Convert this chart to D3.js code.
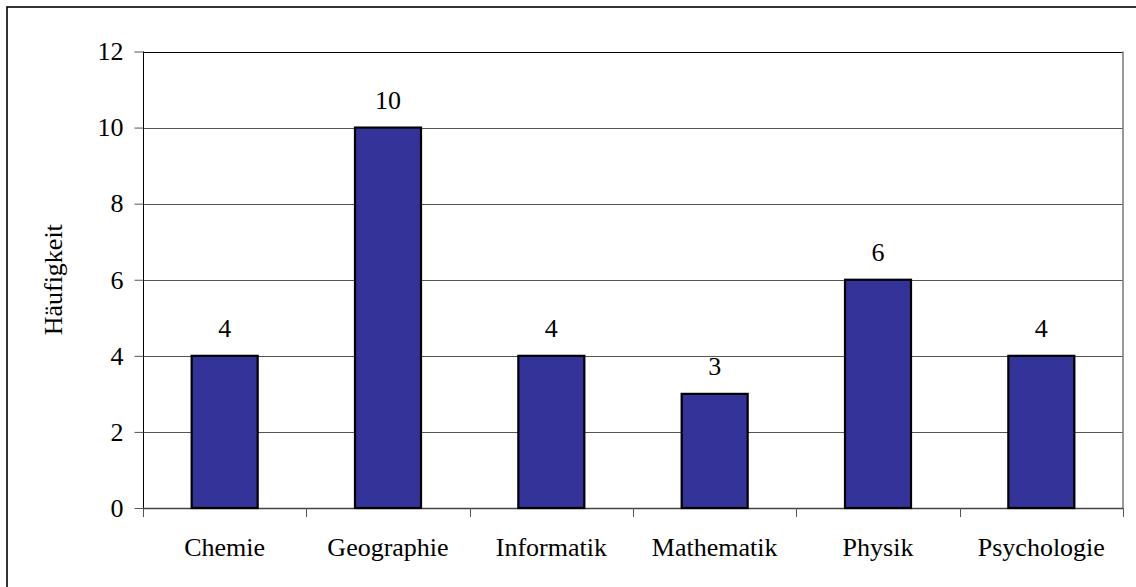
<!DOCTYPE html>
<html><head><meta charset="utf-8">
<script src="https://cdn.jsdelivr.net/npm/d3@7"></script>
<style>
html,body{margin:0;padding:0;background:#fff;}
svg{display:block;}
</style></head>
<body>
<svg id="chart" width="1136" height="587"></svg>
<script>
const categories = ["Chemie","Geographie","Informatik","Mathematik","Physik","Psychologie"];
const values = [4,10,4,3,6,4];
const yTicks = [0,2,4,6,8,10,12];
const yLabel = "Häufigkeit";

(function(){
const svg = d3.select("#chart");
const FONT = "'Liberation Serif', 'Times New Roman', 'DejaVu Serif', serif";
const pLeft = 143, pRight = 1123, pTop = 51.5, pBottom = 508;
const fs = 26;

// outer frame
svg.append("rect").attr("x",7).attr("y",7).attr("width",1140).attr("height",600)
  .attr("fill","none").attr("stroke","#000").attr("stroke-width",1.6);

const x = d3.scaleBand().domain(categories).range([pLeft,pRight]).padding(0);
const y = d3.scaleLinear().domain([0,12]).range([pBottom,pTop]);

// gridlines
svg.append("g").selectAll("line").data(yTicks.filter(d=>d>0)).join("line")
  .attr("x1",pLeft).attr("x2",pRight)
  .attr("y1",d=>Math.round(y(d))+0.5).attr("y2",d=>Math.round(y(d))+0.5)
  .attr("stroke",d=>d===12?"#000":"#555").attr("stroke-width",1);

// right border
svg.append("line").attr("x1",pRight).attr("x2",pRight).attr("y1",pTop).attr("y2",pBottom)
  .attr("stroke","#808080").attr("stroke-width",1.6);

// y axis
const yAxis = d3.axisLeft(y).tickValues(yTicks).tickSize(9).tickPadding(11).tickFormat(d3.format("d"));
const gy = svg.append("g").attr("transform",`translate(${pLeft+0.5},0)`).call(yAxis);
gy.attr("font-family",null).attr("font-size",null);
gy.select(".domain").attr("stroke","#000").attr("d",`M0,${pTop}V${pBottom}`);
gy.selectAll(".tick line").attr("stroke","#555");
gy.selectAll(".tick text").style("font-family",FONT).style("font-size",fs+"px").attr("fill","#000");

// x axis line and ticks at band boundaries
svg.append("line").attr("x1",pLeft).attr("x2",pRight).attr("y1",pBottom+0.5).attr("y2",pBottom+0.5)
  .attr("stroke","#444").attr("stroke-width",1.4);
const bounds = categories.map(c=>x(c)).concat([x(categories[categories.length-1])+x.bandwidth()]);
svg.append("g").selectAll("line").data(bounds).join("line")
  .attr("x1",d=>Math.round(d)+0.5).attr("x2",d=>Math.round(d)+0.5)
  .attr("y1",pBottom).attr("y2",pBottom+9).attr("stroke","#555");

// x labels
svg.append("g").selectAll("text").data(categories).join("text")
  .attr("x",d=>x(d)+x.bandwidth()/2).attr("y",556)
  .attr("text-anchor","middle").style("font-family",FONT).style("font-size",fs+"px").text(d=>d);

// bars
const bw = 66;
svg.append("g").selectAll("rect").data(values).join("rect")
  .attr("x",(d,i)=>x(categories[i])+x.bandwidth()/2-bw/2)
  .attr("y",d=>y(d))
  .attr("width",bw)
  .attr("height",d=>y(0)-y(d))
  .attr("fill","#333399").attr("stroke","#000").attr("stroke-width",2.2);

// value labels
svg.append("g").selectAll("text").data(values).join("text")
  .attr("x",(d,i)=>x(categories[i])+x.bandwidth()/2)
  .attr("y",d=>y(d)-19)
  .attr("text-anchor","middle").style("font-family",FONT).style("font-size",fs+"px").text(d=>d);

// y label
svg.append("text").attr("transform",`translate(62,${(pTop+pBottom)/2}) rotate(-90)`)
  .attr("text-anchor","middle").style("font-family",FONT).style("font-size",fs+"px").text(yLabel);
})();
</script>
</body></html>
